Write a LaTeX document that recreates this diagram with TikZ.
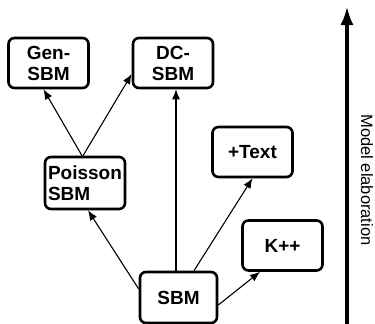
\documentclass[tikz,border=0pt]{standalone}
\usepackage{fontspec}
\setmainfont{Liberation Sans}
\usetikzlibrary{arrows.meta}
\begin{document}
\begin{tikzpicture}[x=1pt,y=-1pt,
  model/.style={draw, line width=2.6pt, rounded corners=6pt, minimum width=80pt, minimum height=50pt,
    inner sep=2pt, align=center, font=\bfseries\fontsize{19}{21}\selectfont},
  link/.style={line width=1.1pt, -{Latex[length=10pt,width=8pt]}},
  bigarrow/.style={line width=4pt, -{Latex[length=19pt,width=13pt]}}]
\useasboundingbox (0,0) rectangle (375,324);
\node[model] (gen) at (48.5,63) {Gen-\\SBM};
\node[model] (dc) at (173,63) {DC-\\SBM};
\node[model, align=left, minimum height=52pt] (poisson) at (85,183) {Poisson\\SBM};
\node[model] (text) at (252.5,152) {+Text};
\node[model] (kpp) at (282.5,245.5) {K++};
\node[model, minimum width=77pt, minimum height=51pt] (sbm) at (178.5,297.5) {SBM};
\draw[link] ([xshift=-3pt]poisson.north) -- ([xshift=-5pt]gen.south);
\draw[link] ([xshift=-2pt]poisson.north) -- ([yshift=-11pt]dc.west);
\draw[link] ([yshift=8.5pt]sbm.west) -- ([xshift=3pt]poisson.south);
\draw[link] ([xshift=-2.5pt]sbm.north) -- ([xshift=3pt]dc.south);
\draw[link] ([xshift=15.5pt]sbm.north) -- (text.south);
\draw[link] ([yshift=-7.5pt]sbm.east) -- ([xshift=-22.5pt]kpp.south);
\coordinate (abot) at (347,324);
\coordinate (atop) at (347,6);
\draw[bigarrow] (abot) -- (atop);
\node[rotate=-90, font=\fontsize{16.5}{18}\selectfont] (lab) at (367,180) {Model elaboration};
\end{tikzpicture}
\end{document}
